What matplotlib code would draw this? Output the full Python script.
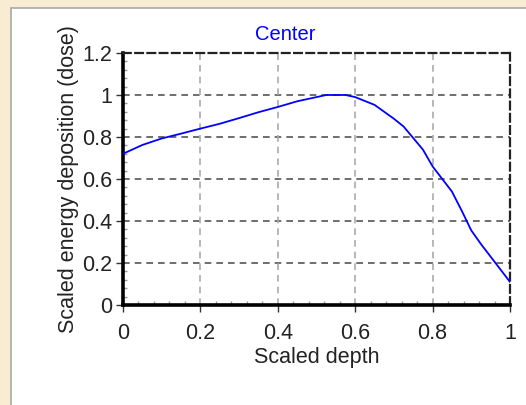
import matplotlib
matplotlib.use("Agg")
import matplotlib.pyplot as plt
from matplotlib.patches import Rectangle
from matplotlib.ticker import MultipleLocator

depth = [0.0, 0.05, 0.1, 0.15, 0.2, 0.25, 0.3, 0.35, 0.4, 0.45, 0.5, 0.525, 0.575,
         0.6, 0.65, 0.7, 0.725, 0.75, 0.775, 0.8, 0.85, 0.875, 0.9, 0.925, 0.95, 0.975, 1.0]
dose = [0.72, 0.762, 0.793, 0.816, 0.84, 0.863, 0.89, 0.918, 0.943, 0.97, 0.99, 1.0, 1.0,
        0.99, 0.953, 0.887, 0.85, 0.795, 0.74, 0.66, 0.54, 0.45, 0.355, 0.29, 0.23, 0.17, 0.11]

title = "Center"
xlabel = "Scaled depth"
ylabel = "Scaled energy deposition (dose)"
xticks = [0, 0.2, 0.4, 0.6, 0.8, 1]
xticklabels = ["0", "0.2", "0.4", "0.6", "0.8", "1"]
yticks = [0, 0.2, 0.4, 0.6, 0.8, 1, 1.2]
yticklabels = ["0", "0.2", "0.4", "0.6", "0.8", "1", "1.2"]

plt.rcParams['font.family'] = ['Liberation Sans', 'DejaVu Sans']

W, H = 526, 405
fig = plt.figure(figsize=(W / 100, H / 100), dpi=100)
fig.patch.set_facecolor('#F8ECD3')
fig.patches.append(Rectangle((10.5 / W, -0.05), 1.2, (H - 7.5) / H + 0.05,
                             transform=fig.transFigure, facecolor='white',
                             edgecolor='#A8A8A8', linewidth=1.2, zorder=-5))

ax = fig.add_axes([123 / W, (H - 305) / H, 387 / W, 252 / H])
ax.set_zorder(1)
ax.set_facecolor('white')
ax.plot(depth, dose, color='#0000FF', linewidth=1.3, zorder=3)

ax.set_xlim(0, 1)
ax.set_ylim(0, 1.2)
ax.set_xticks(xticks)
ax.set_xticklabels(xticklabels)
ax.set_yticks(yticks)
ax.set_yticklabels(yticklabels)
ax.xaxis.set_minor_locator(MultipleLocator(0.04))
ax.yaxis.set_minor_locator(MultipleLocator(0.04))

txtc = '#222222'
ax.tick_params(which='major', direction='out', length=5, width=1, color='#333333',
               labelsize=15.5, labelcolor=txtc, pad=3)
ax.tick_params(axis='x', which='major', pad=8)
ax.tick_params(which='minor', direction='in', length=3, width=1, color='#999999')

for s in ['left', 'bottom']:
    ax.spines[s].set_linewidth(2.6)
    ax.spines[s].set_color('black')
for s in ['top', 'right']:
    ax.spines[s].set_linewidth(1.6)
    ax.spines[s].set_color('#222222')
    ax.spines[s].set_linestyle((0, (3.5, 2)))

for y in yticks[1:-1]:
    ax.axhline(y, color='#555555', linewidth=1.2, linestyle=(0, (4, 3)), zorder=1)
for x in xticks[1:-1]:
    ax.axvline(x, color='#AAAAAA', linewidth=1.2, linestyle=(0, (4, 3)), zorder=1)

ax.set_xlabel(xlabel, fontsize=15.5, color=txtc, labelpad=2)
ax.set_ylabel(ylabel, fontsize=15.5, color=txtc, labelpad=2)
fig.text(285.5 / W, 1 - 34 / H, title, color='#0000FF', fontsize=14.5,
         ha='center', va='center', zorder=2)

fig.savefig('out.png', dpi=100, facecolor=fig.get_facecolor())
